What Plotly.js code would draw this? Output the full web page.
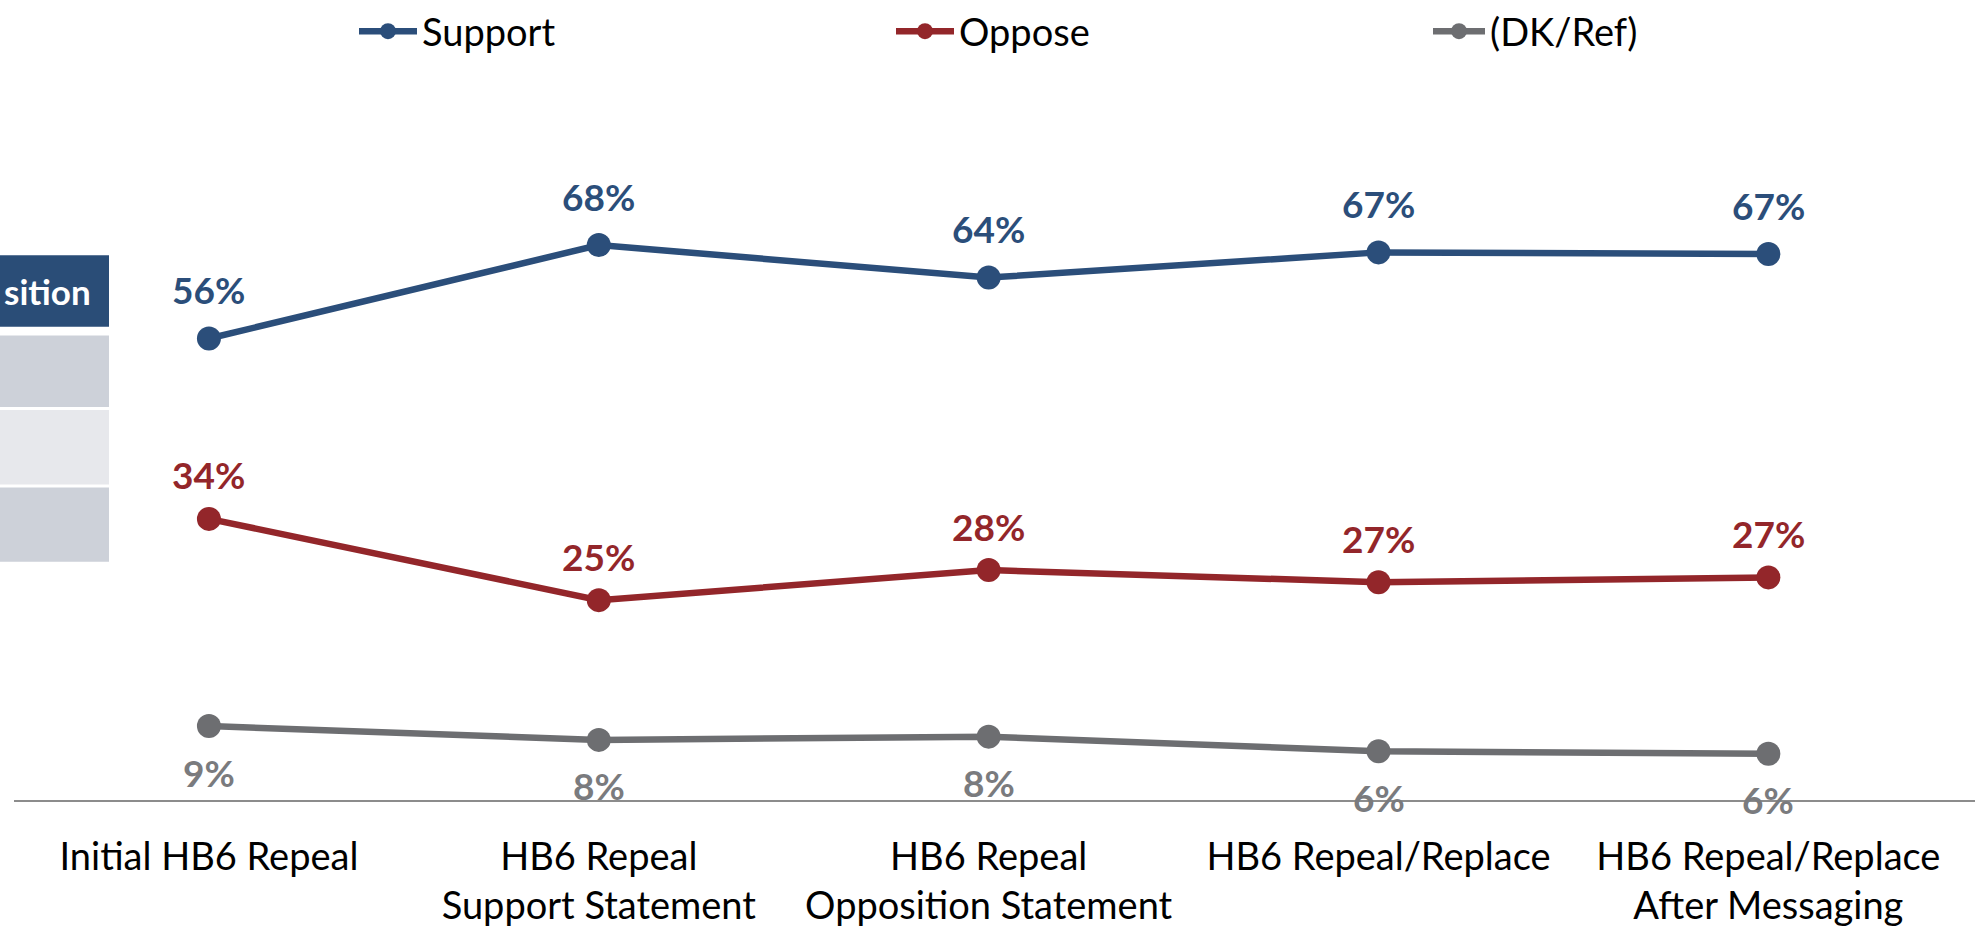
<!DOCTYPE html>
<html>
<head>
<meta charset="utf-8">
<script src="https://cdn.plot.ly/plotly-3.0.1.min.js"></script>
<style>html,body{margin:0;padding:0;background:#fff;overflow:hidden;}#chart{width:1975px;height:930px;}</style>
</head>
<body>
<div id="chart"></div>
<script>
// ---- data ----
var categories = [
  "Initial HB6 Repeal",
  "HB6 Repeal<br>Support Statement",
  "HB6 Repeal<br>Opposition Statement",
  "HB6 Repeal/Replace",
  "HB6 Repeal/Replace<br>After Messaging"
];
var seriesNames = ["Support", "Oppose", "(DK/Ref)"];
var supportValues = [56.8, 68.3, 64.3, 67.4, 67.2];
var opposeValues  = [34.6, 24.6, 28.3, 26.8, 27.4];
var dkValues      = [9.1, 7.4, 7.8, 6.0, 5.7];
var supportLabels = ["56%", "68%", "64%", "67%", "67%"];
var opposeLabels  = ["34%", "25%", "28%", "27%", "27%"];
var dkLabels      = ["9%", "8%", "8%", "6%", "6%"];
var tableHeaderText = "sition";   // visible part of the clipped table header

// ---- styling ----
var W = 1975, H = 930;
var M = {l: 14, r: 0, t: 145, b: 130};
var plotW = W - M.l - M.r, plotH = H - M.t - M.b;
function px2paperX(px){ return (px - M.l) / plotW; }
function px2paperY(py){ return (H - M.b - py) / plotH; }

var colors = ["#2b4e7a", "#93262a", "#6d6e71"];
var labelColors = ["#2b4e7a", "#93262a", "#7a7b7e"];
var FONT = "Lato, 'Open Sans', sans-serif";

var allValues = [supportValues, opposeValues, dkValues];
var allLabels = [supportLabels, opposeLabels, dkLabels];
var labelShift = [49, 44, -46];
var legendIds = ["legend", "legend", "legend2"];

var traces = allValues.map(function(vals, i){
  return {
    type: "scatter",
    mode: "lines+markers",
    name: seriesNames[i],
    legend: legendIds[i],
    x: categories,
    y: vals,
    line: {color: colors[i], width: 6.5},
    marker: {color: colors[i], size: 24},
    cliponaxis: false,
    hoverinfo: "skip"
  };
});

var annotations = [];
allValues.forEach(function(vals, i){
  vals.forEach(function(v, j){
    annotations.push({
      x: categories[j], y: v, xref: "x", yref: "y",
      text: allLabels[i][j], showarrow: false,
      yshift: labelShift[i], xanchor: "center", yanchor: "middle",
      font: {family: FONT, size: 37, color: labelColors[i], weight: 700}
    });
  });
});
annotations.push({
  xref: "paper", yref: "paper",
  x: px2paperX(2), y: px2paperY(287),
  xanchor: "left", yanchor: "middle", showarrow: false,
  text: tableHeaderText,
  font: {family: FONT, size: 35, color: "#ffffff", weight: 700}
});

var rows = [
  {y0: 251, y1: 323, c: "#2a4d77"},
  {y0: 332, y1: 404, c: "#cdd1d9"},
  {y0: 407, y1: 482, c: "#e7e8ec"},
  {y0: 485, y1: 560, c: "#cdd1d9"}
];
var shapes = rows.map(function(r){
  return {
    type: "rect", xref: "paper", yref: "paper", layer: "below",
    x0: px2paperX(-5), x1: px2paperX(109),
    y0: px2paperY(r.y1), y1: px2paperY(r.y0),
    fillcolor: r.c, line: {width: 0}
  };
});

var legendFont = {family: FONT, size: 38, color: "#000000"};

var layout = {
  width: W, height: H,
  margin: M,
  paper_bgcolor: "#ffffff", plot_bgcolor: "#ffffff",
  showlegend: true,
  legend: {
    orientation: "h",
    x: px2paperX(354), xanchor: "left",
    y: px2paperY(25), yanchor: "middle",
    font: legendFont,
    entrywidth: 464, entrywidthmode: "pixels",
    itemwidth: 58,
    bgcolor: "rgba(0,0,0,0)"
  },
  legend2: {
    orientation: "h",
    x: px2paperX(1428), xanchor: "left",
    y: px2paperY(25), yanchor: "middle",
    font: legendFont,
    itemwidth: 52,
    bgcolor: "rgba(0,0,0,0)"
  },
  xaxis: {
    type: "category",
    range: [-0.5, 4.53],
    showline: true, linecolor: "#8c8c8c", linewidth: 2,
    showgrid: false, zeroline: false,
    ticks: "",
    ticklabelstandoff: 22,
    tickfont: {family: FONT, size: 38, color: "#000000"},
    fixedrange: true
  },
  yaxis: {
    range: [0, 80],
    visible: false,
    showgrid: false, zeroline: false,
    fixedrange: true
  },
  shapes: shapes,
  annotations: annotations
};

Plotly.newPlot("chart", traces, layout, {displayModeBar: false, staticPlot: true});
</script>
</body>
</html>
